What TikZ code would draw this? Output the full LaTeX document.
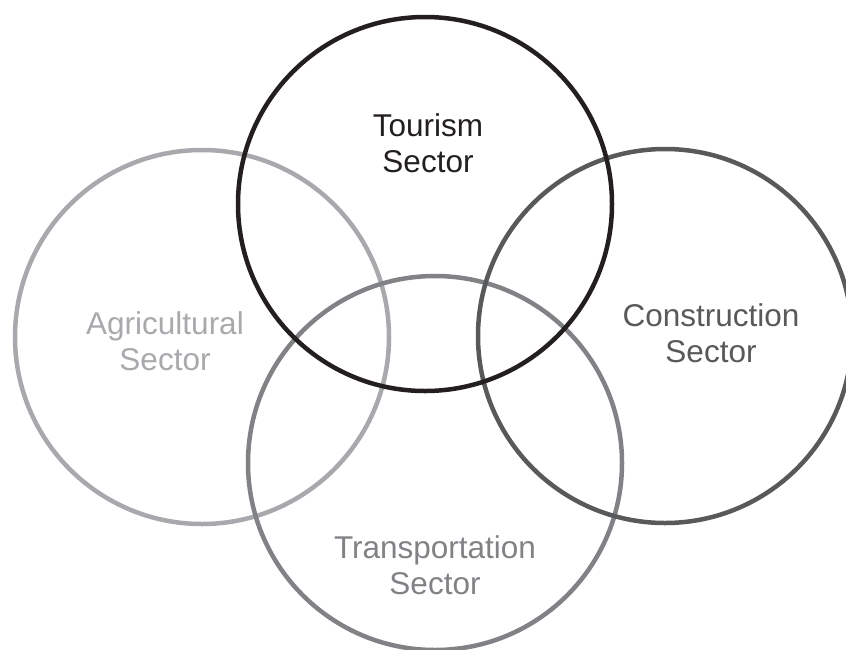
\documentclass[tikz,border=0pt]{standalone}
\usepackage{fontspec}
\setmainfont{Liberation Sans}
\usepackage{tikz}
\definecolor{Ink}{HTML}{231F20}
\definecolor{Slate}{HTML}{58595B}
\definecolor{Steel}{HTML}{808285}
\definecolor{Mist}{HTML}{A7A9AC}
\tikzset{
  ring/.style={circle,draw=#1,line width=4.5pt,minimum size=374pt,inner sep=0pt},
  sectorlabel/.style={text=#1,align=center,font=\fontsize{31.5}{36.5}\selectfont}
}

\begin{document}
\begin{tikzpicture}[x=1pt,y=-1pt]
  \useasboundingbox (0,0) rectangle (846,649);
  \clip (0,0) rectangle (846,649);
  \node[ring=Mist] (agri) at (202,337) {};
  \node[ring=Steel] (trans) at (435,463) {};
  \node[ring=Slate] (constr) at (665,336) {};
  \node[ring=Ink] (tour) at (425,204) {};
  % labels sit off-centre inside the rings
  \node[sectorlabel=Ink] (tourlbl) at (428,143) {Tourism\\Sector};
  \node[sectorlabel=Mist] (agrilbl) at (165,341) {Agricultural\\Sector};
  \node[sectorlabel=Slate] (constrlbl) at (711,333) {Construction\\Sector};
  \node[sectorlabel=Steel] (translbl) at (435,565) {Transportation\\Sector};
\end{tikzpicture}
\end{document}
